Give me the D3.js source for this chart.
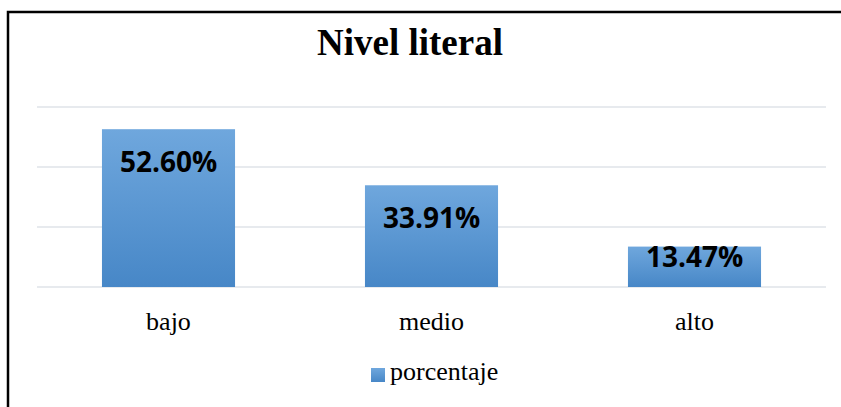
<!DOCTYPE html>
<html>
<head>
<meta charset="utf-8">
<script src="https://cdn.jsdelivr.net/npm/d3@7"></script>
<style>
	body { margin: 0; background: #fff; overflow: hidden; }
	svg { display: block; }
</style>
</head>
<body>
<div id="chart"></div>
<script>
// Data
var categories = ["bajo", "medio", "alto"];
var values = [52.60, 33.91, 13.47];
var yTicks = [0, 20, 40, 60];
var seriesName = "porcentaje";
var title = "Nivel literal";

var W = 841, H = 407;
var margin = {top: 107, right: 15, bottom: 120, left: 37},
	width = W - margin.left - margin.right,
	height = H - margin.top - margin.bottom;

var svg = d3.select("#chart")
	.append("svg")
		.attr("width", W)
		.attr("height", H);

// gradient fill for bars
var grad = svg.append("defs").append("linearGradient")
	.attr("id", "barGrad")
	.attr("x1", 0).attr("y1", 0).attr("x2", 0).attr("y2", 1);
grad.append("stop").attr("offset", "0%").attr("stop-color", "#6fa7dd");
grad.append("stop").attr("offset", "100%").attr("stop-color", "#4787c7");

// outer frame (only left and top edges visible in the picture)
svg.append("path")
	.attr("d", "M8," + H + "V12H" + W)
	.attr("fill", "none")
	.attr("stroke", "#000")
	.attr("stroke-width", 2.5);

var g = svg.append("g")
	.attr("transform", "translate(" + margin.left + "," + margin.top + ")");

var xScale = d3.scaleBand()
	.domain(categories)
	.range([0, width])
	.paddingInner(0.494)
	.paddingOuter(0.247);

var yScale = d3.scaleLinear()
	.domain([0, 60])
	.range([height, 0]);

// gridlines
g.selectAll(".grid")
	.data(yTicks)
	.enter().append("line")
		.attr("class", "grid")
		.attr("x1", 0).attr("x2", width)
		.attr("y1", d => yScale(d)).attr("y2", d => yScale(d))
		.attr("stroke", "#dfe3e8")
		.attr("stroke-width", 1.5);

// bars
g.selectAll(".bar")
	.data(values)
	.enter().append("rect")
		.attr("class", "bar")
		.attr("x", (d, i) => xScale(categories[i]))
		.attr("y", d => yScale(d))
		.attr("width", xScale.bandwidth())
		.attr("height", d => height - yScale(d))
		.attr("fill", "url(#barGrad)");

// value labels
g.selectAll(".lbl")
	.data(values)
	.enter().append("text")
		.attr("class", "lbl")
		.attr("x", (d, i) => xScale(categories[i]) + xScale.bandwidth() / 2)
		.attr("y", d => Math.min(yScale(d) + 43, height - 20))
		.attr("text-anchor", "middle")
		.style("font", "bold 28px 'Open Sans'")
		.attr("fill", "#000")
		.text(d => d.toFixed(2) + "%");

// x axis labels
g.selectAll(".cat")
	.data(categories)
	.enter().append("text")
		.attr("class", "cat")
		.attr("x", d => xScale(d) + xScale.bandwidth() / 2)
		.attr("y", height + 43)
		.attr("text-anchor", "middle")
		.style("font", "26px 'Liberation Serif'")
		.attr("fill", "#000")
		.text(d => d);

// title
svg.append("text")
	.attr("x", 410)
	.attr("y", 55)
	.attr("text-anchor", "middle")
	.style("font", "bold 37px 'Liberation Serif'")
	.text(title);

// legend
var legend = svg.append("g").attr("transform", "translate(371,368)");
legend.append("rect")
	.attr("width", 14).attr("height", 14)
	.attr("fill", "url(#barGrad)");
legend.append("text")
	.attr("x", 19).attr("y", 12)
	.style("font", "26px 'Liberation Serif'")
	.text(seriesName);
</script>
</body>
</html>
